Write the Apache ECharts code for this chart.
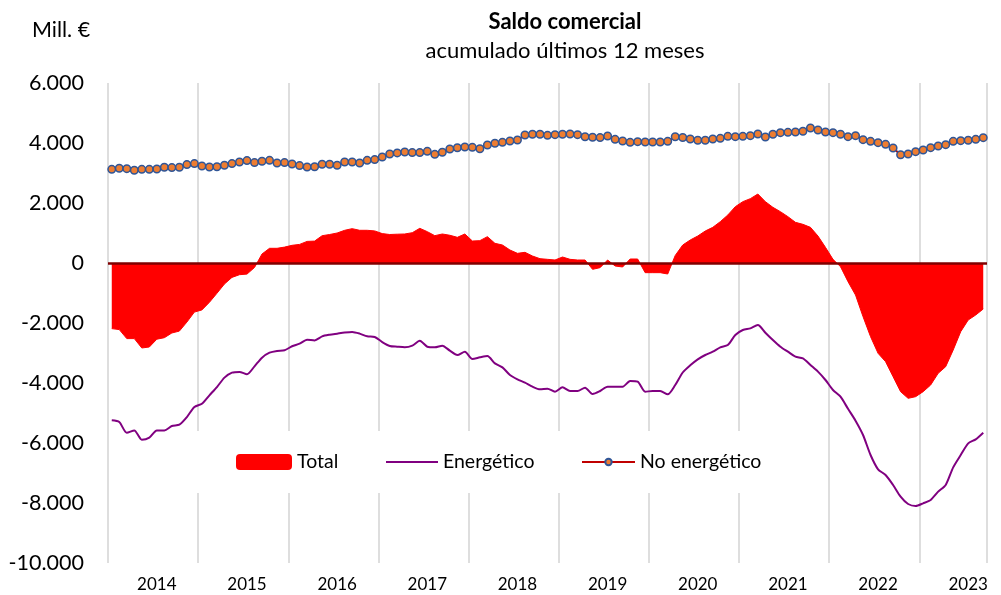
<!DOCTYPE html>
<html lang="es">
<head>
    <meta charset="UTF-8">
    <title>Saldo comercial</title>
    <script src="https://cdn.jsdelivr.net/npm/echarts@6/dist/echarts.min.js"></script>
</head>
<body style="margin:0">
<div id="main" style="width: 1001px; height: 595px"></div>
</body>
<script>
    // meses ene-2014 .. sep-2023
    let years = [2014, 2015, 2016, 2017, 2018, 2019, 2020, 2021, 2022, 2023];
    let lastMonth = 9;
    let months = [];
    for (let y of years) {
        let n = (y === 2023) ? lastMonth : 12;
        for (let m = 1; m <= n; m++) {
            months.push(y + '-' + (m < 10 ? '0' + m : m));
        }
    }

    let total = [
        -2187, -2220, -2520, -2520, -2833, -2800, -2540, -2490, -2333, -2270, -1970, -1636,
        -1565, -1310, -1010, -700, -480, -390, -370, -150, 300, 490, 490, 530,
        590, 620, 720, 730, 910, 950, 1000, 1090, 1145, 1090, 1090, 1070,
        980, 950, 960, 967, 1010, 1156, 1045, 911, 967, 925, 856, 967,
        733, 745, 878, 656, 600, 433, 322, 356, 233, 144, 122, 100,
        200, 122, 100, 100, -211, -155, 100, -100, -133, 133, 133, -322,
        -322, -322, -367, 250, 600, 767, 900, 1067, 1189, 1378, 1600, 1878,
        2045, 2145, 2300, 2045, 1856, 1711, 1545, 1356, 1289, 1189, 900, 522,
        122, -122, -622, -1067, -1789, -2456, -3011, -3289, -3789, -4289, -4511, -4456,
        -4289, -4067, -3678, -3456, -2900, -2289, -1900, -1733, -1533
    ];
    let energetico = [
        -5243, -5300, -5660, -5580, -5890, -5820, -5580, -5580, -5435, -5390, -5135, -4800,
        -4690, -4410, -4135, -3820, -3655, -3630, -3710, -3445, -3155, -2990, -2930, -2910,
        -2775, -2690, -2555, -2580, -2445, -2390, -2355, -2320, -2300, -2355, -2445, -2465,
        -2635, -2765, -2790, -2810, -2756, -2590, -2790, -2810, -2756, -2923, -3067, -2956,
        -3200, -3145, -3100, -3345, -3478, -3733, -3878, -3989, -4122, -4211, -4189, -4289,
        -4145, -4267, -4267, -4156, -4367, -4267, -4122, -4122, -4122, -3934, -3956, -4289,
        -4267, -4267, -4378, -4067, -3650, -3410, -3211, -3067, -2956, -2811, -2733, -2400,
        -2233, -2178, -2067, -2323, -2567, -2789, -2956, -3122, -3178, -3400, -3622, -3900,
        -4233, -4456, -4860, -5256, -5733, -6400, -6878, -7067, -7400, -7789, -8033, -8100,
        -8011, -7900, -7622, -7400, -6811, -6400, -6011, -5878, -5656
    ];
    let noEnergetico = [
        3123, 3157, 3145, 3090, 3123, 3123, 3135, 3190, 3180, 3190, 3280, 3313,
        3235, 3200, 3210, 3257, 3313, 3368, 3413, 3347, 3390, 3423, 3335, 3347,
        3300, 3246, 3200, 3210, 3290, 3290, 3257, 3368, 3368, 3335, 3423, 3446,
        3535, 3635, 3670, 3700, 3680, 3680, 3723, 3623, 3690, 3800, 3843, 3866,
        3856, 3810, 3933, 3990, 4023, 4067, 4100, 4267, 4290, 4290, 4256, 4278,
        4290, 4300, 4278, 4210, 4190, 4180, 4234, 4123, 4067, 4023, 4045, 4034,
        4034, 4034, 4056, 4210, 4185, 4134, 4090, 4090, 4134, 4156, 4223, 4212,
        4223, 4245, 4300, 4200, 4290, 4345, 4356, 4367, 4390, 4500, 4434, 4367,
        4345, 4290, 4212, 4245, 4112, 4056, 4012, 3956, 3833, 3610, 3634, 3712,
        3767, 3845, 3900, 3945, 4056, 4078, 4090, 4123, 4178
    ];
    let yTicks = [-10000, -8000, -6000, -4000, -2000, 0, 2000, 4000, 6000];

    let font = 'Lato, "Open Sans", sans-serif';
    let fmt = function (v) {
        let s = String(Math.abs(v)).replace(/\B(?=(\d{3})+(?!\d))/g, '.');
        return (v < 0 ? '-' : '') + s;
    };

    let myChart = echarts.init(document.getElementById('main'));
    let option = {
        animation: false,
        textStyle: {fontFamily: font},
        graphic: [
            {type: 'text', x: 565, y: 22, style: {text: 'Saldo comercial', font: 'bold 22px ' + font, fill: '#000', textAlign: 'center', textVerticalAlign: 'middle'}},
            {type: 'text', x: 565, y: 51, style: {text: 'acumulado últimos 12 meses', font: '22px ' + font, fill: '#000', textAlign: 'center', textVerticalAlign: 'middle'}},
            {type: 'text', x: 32, y: 30, style: {text: 'Mill. €', font: '21.5px ' + font, fill: '#000', textAlign: 'left', textVerticalAlign: 'middle'}}
        ],
        grid: {left: 108, right: 14, top: 83, bottom: 32},
        legend: [
            { // fondo blanco de la leyenda
                data: [{name: 'Total', icon: 'roundRect'}],
                left: 186, top: 431,
                padding: [21, 440, 21, 50],
                backgroundColor: '#fff',
                itemWidth: 56, itemHeight: 16,
                textStyle: {fontSize: 19.5, color: '#000', fontFamily: font}
            },
            {
                data: [{name: 'Energético', icon: 'rect'}],
                left: 386, top: 452, padding: 0, z: 6,
                itemWidth: 52, itemHeight: 2,
                textStyle: {fontSize: 19.5, color: '#000', fontFamily: font}
            },
            {
                data: ['No energético'],
                left: 581, top: 452, padding: 0, z: 6,
                itemWidth: 53, itemHeight: 8,
                textStyle: {fontSize: 19.5, color: '#000', fontFamily: font}
            }
        ],
        xAxis: {
            type: 'category',
            data: months,
            boundaryGap: true,
            axisLine: {show: false},
            axisTick: {show: false},
            axisLabel: {
                interval: function (i) { return i % 12 === 6; },
                formatter: function (v) { return v.slice(0, 4); },
                fontSize: 17, color: '#000', margin: 13
            },
            splitLine: {
                show: true,
                interval: function (i) { return i % 12 === 0; },
                lineStyle: {color: '#d3d3d3', width: 1.5}
            }
        },
        yAxis: {
            type: 'value',
            min: yTicks[0],
            max: yTicks[yTicks.length - 1],
            interval: 2000,
            axisLine: {show: false},
            axisTick: {show: false},
            splitLine: {show: false},
            axisLabel: {fontSize: 21.5, color: '#000', margin: 24, formatter: fmt}
        },
        series: [
            {
                name: 'Total',
                type: 'line',
                data: total,
                showSymbol: false,
                symbol: 'none',
                itemStyle: {color: '#ff0000'},
                lineStyle: {color: '#ff0000', width: 1},
                areaStyle: {color: '#ff0000', opacity: 1, origin: 0},
                markLine: {
                    silent: true,
                    symbol: ['none', 'none'],
                    label: {show: false},
                    lineStyle: {color: '#800000', width: 2.5, type: 'solid'},
                    data: [{yAxis: 0}]
                }
            },
            {
                name: 'Energético',
                type: 'line',
                data: energetico,
                smooth: 0.25,
                showSymbol: false,
                symbol: 'none',
                itemStyle: {color: '#800080'},
                lineStyle: {color: '#800080', width: 2}
            },
            {
                name: 'No energético',
                type: 'line',
                data: noEnergetico,
                symbol: 'circle',
                symbolSize: 7.5,
                showAllSymbol: true,
                itemStyle: {color: '#ed7d31', borderColor: '#2f5597', borderWidth: 1.5},
                lineStyle: {color: '#c00000', width: 2},
                z: 4
            }
        ]
    };
    myChart.setOption(option);
</script>
</html>
